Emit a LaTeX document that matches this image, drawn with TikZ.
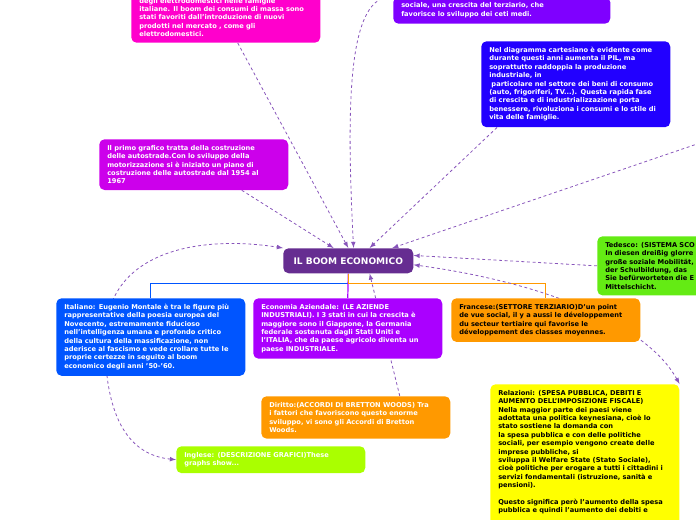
\documentclass[tikz,border=0pt]{standalone}
\usepackage{fontspec}
\setmainfont{DejaVu Sans}
\usetikzlibrary{arrows, backgrounds}

\definecolor{boomPurple}{RGB}{102,45,145}
\definecolor{magPink}{RGB}{255,0,204}
\definecolor{topViolet}{RGB}{127,0,255}
\definecolor{deepBlue}{RGB}{34,0,255}
\definecolor{priMagenta}{RGB}{204,0,235}
\definecolor{tedGreen}{RGB}{100,235,20}
\definecolor{itaBlue}{RGB}{0,85,255}
\definecolor{ecoPurple}{RGB}{170,0,255}
\definecolor{fraOrange}{RGB}{255,153,0}
\definecolor{ingLime}{RGB}{170,255,0}
\definecolor{relYellow}{RGB}{255,255,0}
\definecolor{linkPurple}{RGB}{136,85,187}

\begin{document}
\begin{tikzpicture}[
    x=0.75pt, y=-0.75pt,
    >=latex,
    every node/.style = {rounded corners=4pt, align=left, inner xsep=6pt, inner ysep=4.5pt,
        font=\bfseries\fontsize{5}{6.3}\selectfont, text=white, text width=129.75pt},
    branch/.style = {line width=0.9pt},
    link/.style = {draw=linkPurple, dash pattern=on 2.2pt off 2pt, line width=0.6pt, ->}
]
    \useasboundingbox (0,0) rectangle (696,520);

    \node [fill=boomPurple, anchor=north west, text width=, minimum width=97.5pt, minimum height=18.75pt,
        align=center, font=\bfseries\fontsize{6.8}{8}\selectfont] (boom) at (283,248) {IL BOOM ECONOMICO};

    \node [fill=magPink, anchor=south west] (mag) at (131,43) {degli elettrodomestici nelle famiglie\\
        italiane. Il boom dei consumi di massa sono\\
        stati favoriti dall'introduzione di nuovi\\
        prodotti nel mercato , come gli\\
        elettrodomestici.};
    \node [fill=topViolet, anchor=south west, text width=150.75pt] (tpur) at (393,24) {sociale, una crescita del terziario, che\\
        favorisce lo sviluppo dei ceti medi.};
    \node [fill=deepBlue, anchor=north west] (blu) at (481,41) {Nel diagramma cartesiano è evidente come\\
        durante questi anni aumenta il PIL, ma\\
        soprattutto raddoppia la produzione\\
        industriale, in\\
        \ particolare nel settore dei beni di consumo\\
        (auto, frigoriferi, TV...). Questa rapida fase\\
        di crescita e di industrializzazione porta\\
        benessere, rivoluziona i consumi e lo stile di\\
        vita delle famiglie.};
    \node [fill=priMagenta, anchor=north west] (pri) at (99,139) {Il primo grafico tratta della costruzione\\
        delle autostrade.Con lo sviluppo della\\
        motorizzazione si è iniziato un piano di\\
        costruzione delle autostrade dal 1954 al\\
        1967};
    \node [fill=tedGreen, text=black, anchor=north west, text width=150pt] (ted) at (597,236) {Tedesco: (SISTEMA SCO\\
        In diesen dreißig glorre\\
        große soziale Mobilität,\\
        der Schulbildung, das\\
        Sie befürworteten die E\\
        Mittelschicht.};
    \coordinate (offR) at (700,143);

    \node [fill=itaBlue, anchor=north west] (ita) at (56,298) {Italiano: Eugenio Montale è tra le figure più\\
        rappresentative della poesia europea del\\
        Novecento, estremamente fiducioso\\
        nell'intelligenza umana e profondo critico\\
        della cultura della massificazione, non\\
        aderisce al fascismo e vede crollare tutte le\\
        proprie certezze in seguito al boom\\
        economico degli anni '50-'60.};
    \node [fill=ecoPurple, anchor=north west] (eco) at (253,298) {Economia Aziendale: (LE AZIENDE\\
        INDUSTRIALI). I 3 stati in cui la crescita è\\
        maggiore sono il Giappone, la Germania\\
        federale sostenuta dagli Stati Uniti e\\
        l'ITALIA, che da paese agricolo diventa un\\
        paese INDUSTRIALE.};
    \node [fill=fraOrange, text=black, anchor=north west] (fra) at (451,298) {Francese:(SETTORE TERZIARIO)D'un point\\
        de vue social, il y a aussi le développement\\
        du secteur tertiaire qui favorise le\\
        développement des classes moyennes.};
    \node [fill=fraOrange, anchor=north west] (dir) at (261,396) {Diritto:(ACCORDI DI BRETTON WOODS) Tra\\
        i fattori che favoriscono questo enorme\\
        sviluppo, vi sono gli Accordi di Bretton\\
        Woods.};
    \node [fill=ingLime, anchor=north west] (ing) at (176,446) {Inglese: (DESCRIZIONE GRAFICI)These\\
        graphs show...};
    \node [fill=relYellow, text=black, anchor=north west] (rela) at (490,384) {Relazioni: (SPESA PUBBLICA, DEBITI E\\
        AUMENTO DELL'IMPOSIZIONE FISCALE)\\
        Nella maggior parte dei paesi viene\\
        adottata una politica keynesiana, cioè lo\\
        stato sostiene la domanda con\\
        la spesa pubblica e con delle politiche\\
        sociali, per esempio vengono create delle\\
        imprese pubbliche, si\\
        sviluppa il Welfare State (Stato Sociale),\\
        cioè politiche per erogare a tutti i cittadini i\\
        servizi fondamentali (istruzione, sanità e\\
        pensioni).\\[6.3pt]
        Questo significa però l'aumento della spesa\\
        pubblica e quindi l'aumento dei debiti e\\[4pt]
        \strut};

    \begin{scope}[on background layer]
        % branches
        \draw[branch, draw=itaBlue] (boom.south) -- ++(0,10) -| (ita.north);
        \draw[branch, draw=ecoPurple] (boom.south) -- (eco.north);
        \draw[branch, draw=fraOrange] (boom.south) -- ++(0,10) -| (fra.north);
        % relations
        \draw[link] ([xshift=9pt]mag.south) -- (boom.north);
        \draw[link] (tpur.north west) .. controls (348,-6) and (346,100) .. ([xshift=4pt]boom.north);
        \draw[link] ([xshift=12pt]blu.south west) -- ([xshift=16pt]boom.north);
        \draw[link] (offR) -- ([xshift=33pt]boom.north);
        \draw[link] ([xshift=36pt]pri.south) -- ([xshift=-11pt]boom.north);
        \draw[link] (ted.west) -- ([yshift=4pt]boom.east);
        \draw[link, <->] (rela.north east) .. controls (650,330) and (560,285) .. ([yshift=-3pt]boom.east);
        \draw[link, <->] (ing.west) .. controls (130,455) and (105,420) .. (105,340)
            .. controls (105,250) and (200,235) .. (boom.north west);
        \draw[link] ([xshift=33pt]dir.north) -- ([xshift=16pt]boom.south);
    \end{scope}
\end{tikzpicture}
\end{document}
